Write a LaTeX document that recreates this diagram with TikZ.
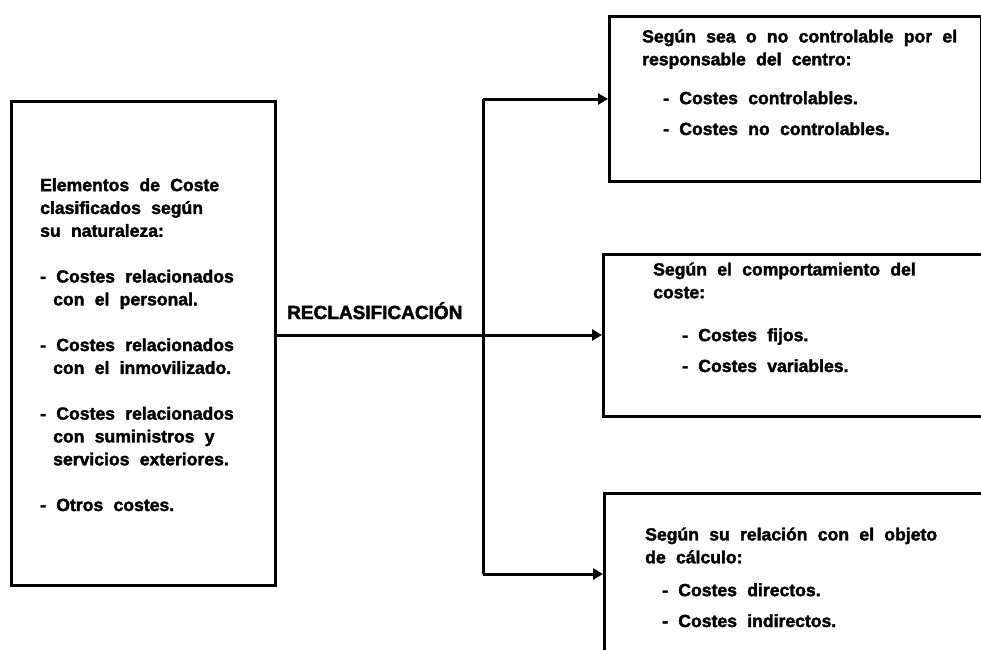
\documentclass[tikz,border=0pt]{standalone}
\usepackage{fontspec}
\setmainfont{Liberation Sans}[WordSpace=2.1, BoldFeatures={FakeBold=2}]
\usetikzlibrary{arrows.meta}
\begin{document}
\begin{tikzpicture}[x=1pt,y=-1pt,
  box/.style={draw, line width=3.2pt, inner sep=0pt, anchor=north west},
  txt/.style={anchor=base west, align=left, inner sep=0pt,
    font=\fontsize{17.6}{22.85}\selectfont\bfseries},
  arr/.style={line width=3pt, -{Triangle[length=10pt,width=11pt]}},
  ln/.style={line width=3pt}]
\useasboundingbox (0,0) rectangle (981,649);
\clip (0,0) rectangle (981,649);
% boxes
\node[box, minimum width=264pt, minimum height=484pt] (src) at (10,100) {};
\node[box, minimum width=372pt, minimum height=165pt] (top) at (608,15) {};
\node[box, minimum width=420pt, minimum height=162pt] (mid) at (602,253) {};
\node[box, minimum width=420pt, minimum height=220pt] (bot) at (603,492) {};
% texts (base anchor = baseline of the last line)
\node[txt] (srct) at (40,511) {Elementos de Coste\\
clasificados según\\
su naturaleza:\\[22.85pt]
- Costes relacionados\\
\hspace*{13pt}con el personal.\\[22.85pt]
- Costes relacionados\\
\hspace*{13pt}con el inmovilizado.\\[22.85pt]
- Costes relacionados\\
\hspace*{13pt}con suministros y\\
\hspace*{13pt}servicios exteriores.\\[22.85pt]
- Otros costes.};
\node[txt] (topt) at (642,135) {Según sea o no controlable por el\\
responsable del centro:\\[16pt]
\hspace*{21pt}- Costes controlables.\\[8pt]
\hspace*{21pt}- Costes no controlables.};
\node[txt] (midt) at (653,372) {Según el comportamiento del\\
coste:\\[20pt]
\hspace*{29pt}- Costes fijos.\\[8pt]
\hspace*{29pt}- Costes variables.};
\node[txt] (bott) at (645,627) {Según su relación con el objeto\\
de cálculo:\\[10pt]
\hspace*{17pt}- Costes directos.\\[8pt]
\hspace*{17pt}- Costes indirectos.};
\node[txt, font=\fontsize{19}{22}\selectfont\bfseries] (lab) at (287,319) {RECLASIFICACIÓN};
% connectors
\coordinate (j) at (483,335);
\coordinate (jt) at (483,99);
\coordinate (jb) at (483,574);
\draw[arr] (src.east |- j) -- (mid.west |- j);
\draw[ln] (jt) -- (jb);
\draw[arr] (jt) -- (top.west |- jt);
\draw[arr] (jb) -- (bot.west |- jb);
\end{tikzpicture}
\end{document}
